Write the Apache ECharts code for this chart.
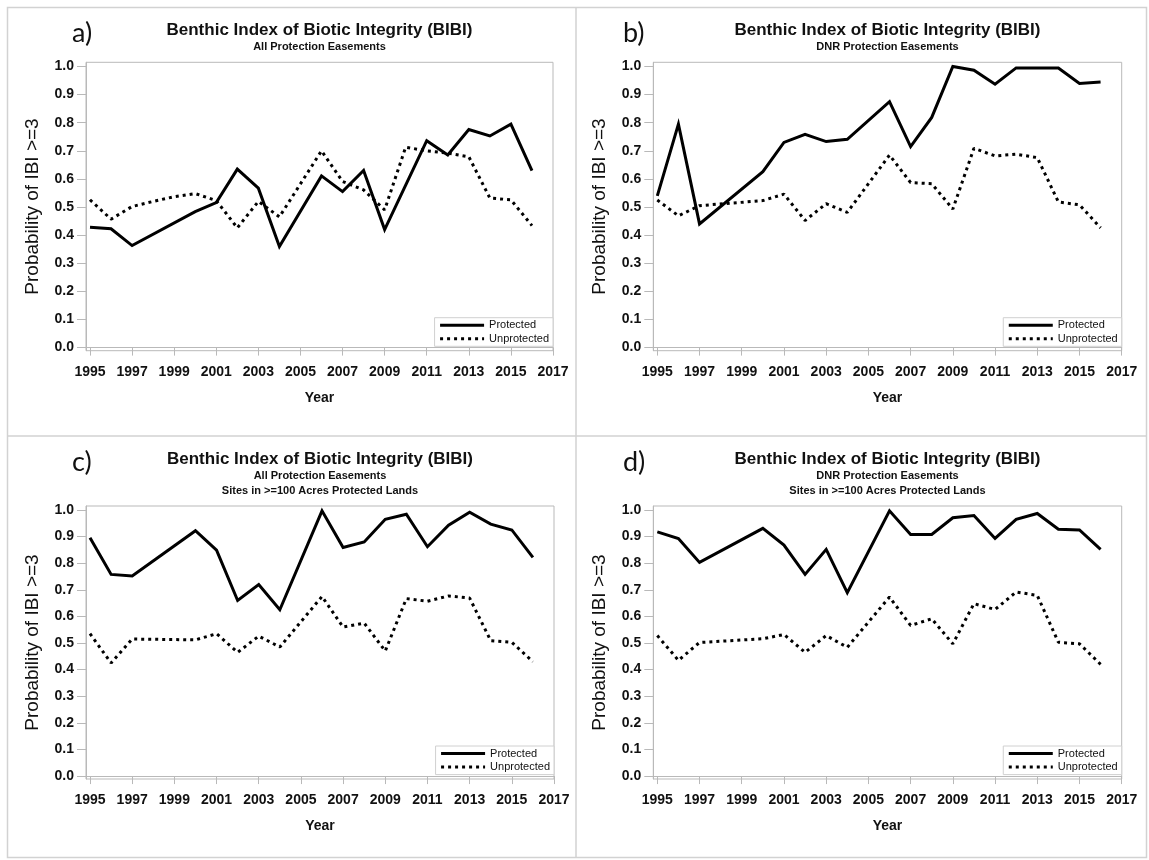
<!DOCTYPE html>
<html>
<head>
<meta charset="utf-8">
<title>Benthic Index of Biotic Integrity (BIBI)</title>
<script src="https://cdn.jsdelivr.net/npm/echarts@6/dist/echarts.min.js"></script>
<style>
  html, body { margin: 0; padding: 0; background: #fff; }
  #chart { width: 1149px; height: 860px; }
</style>
</head>
<body>
<div id="chart"></div>
<script>
// Sampling years; null = no estimate for that year
const YEARS = [1995, 1996, 1997, 1998, 1999, 2000, 2001, 2002, 2003, 2004, 2005,
               2006, 2007, 2008, 2009, 2010, 2011, 2012, 2013, 2014, 2015, 2016];

// a) All protection easements
const A_PROTECTED   = [0.428, 0.423, 0.363, null, null, 0.484, 0.516, 0.635, 0.567, 0.360, null,
                       0.611, 0.555, 0.630, 0.420, 0.578, 0.736, 0.685, 0.776, 0.753, 0.795, 0.630];
const A_UNPROTECTED = [0.526, 0.457, 0.502, 0.520, 0.537, 0.548, 0.523, 0.426, 0.520, 0.465, null,
                       0.700, 0.591, 0.561, 0.490, 0.713, 0.700, 0.692, 0.679, 0.532, 0.526, 0.434];

// b) DNR protection easements
const B_PROTECTED   = [0.540, 0.795, 0.440, null, null, 0.626, 0.730, 0.759, 0.733, 0.741, null,
                       0.875, 0.715, 0.819, 1.000, 0.987, 0.937, 0.995, 0.995, 0.995, 0.940, 0.945];
const B_UNPROTECTED = [0.525, 0.469, 0.505, null, null, 0.523, 0.546, 0.452, 0.512, 0.481, null,
                       0.685, 0.587, 0.583, 0.493, 0.709, 0.682, 0.688, 0.676, 0.518, 0.508, 0.426];

// c) All protection easements, sites in >=100 acres protected lands
const C_PROTECTED   = [0.896, 0.758, 0.752, null, null, 0.922, 0.849, 0.660, 0.720, 0.625, null,
                       0.997, 0.859, 0.880, 0.965, 0.984, 0.862, 0.943, 0.992, 0.947, 0.925, 0.822];
const C_UNPROTECTED = [0.535, 0.425, 0.515, null, null, 0.512, 0.535, 0.465, 0.526, 0.485, null,
                       0.675, 0.560, 0.575, 0.470, 0.667, 0.657, 0.677, 0.669, 0.509, 0.503, 0.430];

// d) DNR protection easements, sites in >=100 acres protected lands
const D_PROTECTED   = [0.918, 0.893, 0.803, null, null, 0.931, 0.868, 0.758, 0.852, 0.689, null,
                       0.997, 0.908, 0.908, 0.971, 0.979, 0.893, 0.965, 0.987, 0.928, 0.925, 0.852];
const D_UNPROTECTED = [0.528, 0.435, 0.502, null, null, 0.516, 0.532, 0.465, 0.528, 0.484, null,
                       0.673, 0.566, 0.591, 0.497, 0.648, 0.626, 0.692, 0.679, 0.503, 0.497, 0.420];

// Axis tick labels
const X_TICKS = [1995, 1997, 1999, 2001, 2003, 2005, 2007, 2009, 2011, 2013, 2015, 2017];
const Y_TICKS = [0, 0.1, 0.2, 0.3, 0.4, 0.5, 0.6, 0.7, 0.8, 0.9, 1.0];

// Text
const TITLE = 'Benthic Index of Biotic Integrity (BIBI)';
const SUBTITLES = [
  ['All Protection Easements'],
  ['DNR Protection Easements'],
  ['All Protection Easements', 'Sites in >=100 Acres Protected Lands'],
  ['DNR Protection Easements', 'Sites in >=100 Acres Protected Lands']
];
const PANEL_TAGS = ['a)', 'b)', 'c)', 'd)'];
const SERIES_NAMES = ['Protected', 'Unprotected'];
const X_NAME = 'Year';
const Y_NAME = 'Probability of IBI >=3';

const PANEL_DATA = [
  [A_PROTECTED, A_UNPROTECTED],
  [B_PROTECTED, B_UNPROTECTED],
  [C_PROTECTED, C_UNPROTECTED],
  [D_PROTECTED, D_UNPROTECTED]
];

// Layout of the four plot frames (pixels)
const W = 1149, H = 860;
const FRAMES = [
  { left: 86,    right: 553,    top: 62.3, bottom: 350.7 },
  { left: 653.3, right: 1121.7, top: 62.3, bottom: 350.7 },
  { left: 86,    right: 554,    top: 506,  bottom: 779 },
  { left: 653.3, right: 1121.7, top: 506,  bottom: 779 }
];
const TITLE_Y = [
  [30.7, 46.5],
  [30.7, 46.5],
  [459, 476, 490.5],
  [459, 476, 490.5]
];
const TAG_POS = [[72, 33], [623, 33], [72, 462], [623, 462]];

const FONT = '"Liberation Sans", Arial, Helvetica, sans-serif';
const FRAME_GRAY = '#b9b9b9';
const INK = '#111111';

function pairs(values) {
  return YEARS.map((y, i) => [y, values[i]]).filter(p => p[1] !== null);
}

const grids = [], xAxes = [], yAxes = [], series = [], legends = [], graphics = [];

FRAMES.forEach((f, i) => {
  grids.push({
    left: f.left, top: f.top,
    width: f.right - f.left, height: f.bottom - f.top,
    show: true, borderColor: FRAME_GRAY, borderWidth: 1,
    containLabel: false
  });

  xAxes.push({
    type: 'value', gridIndex: i,
    min: 1994.81, max: 2017,
    axisLine: { show: true, lineStyle: { color: FRAME_GRAY, width: 1 } },
    axisTick: { show: true, customValues: X_TICKS, length: 8, lineStyle: { color: FRAME_GRAY } },
    axisLabel: {
      customValues: X_TICKS, margin: 14, color: INK,
      fontFamily: FONT, fontSize: 14, fontWeight: 'bold',
      formatter: v => String(v)
    },
    splitLine: { show: false },
    name: X_NAME, nameLocation: 'middle', nameGap: 40,
    nameTextStyle: { fontFamily: FONT, fontSize: 14, fontWeight: 'bold', color: INK }
  });

  yAxes.push({
    type: 'value', gridIndex: i,
    min: -0.011, max: 1.015,
    axisLine: { show: true, lineStyle: { color: FRAME_GRAY, width: 1 } },
    axisTick: { show: true, customValues: Y_TICKS, length: 9, lineStyle: { color: FRAME_GRAY } },
    axisLabel: {
      customValues: Y_TICKS, margin: 12, color: INK,
      fontFamily: FONT, fontSize: 14, fontWeight: 'bold',
      formatter: v => Number(v).toFixed(1)
    },
    splitLine: { show: false },
    name: Y_NAME, nameLocation: 'middle', nameGap: 44,
    nameTextStyle: { fontFamily: FONT, fontSize: 19, fontWeight: 'normal', color: INK }
  });

  const [prot, unprot] = PANEL_DATA[i];
  series.push({
    name: SERIES_NAMES[0], type: 'line', xAxisIndex: i, yAxisIndex: i,
    data: pairs(prot), symbol: 'none', silent: true,
    lineStyle: { color: '#000', width: 3, type: 'solid', join: 'miter' },
    itemStyle: { color: '#000' }
  });
  series.push({
    name: SERIES_NAMES[1], type: 'line', xAxisIndex: i, yAxisIndex: i,
    data: pairs(unprot), symbol: 'none', silent: true,
    lineStyle: { color: '#000', width: 3, type: [3, 4], cap: 'butt' },
    itemStyle: { color: '#000' }
  });

  legends.push({
    data: SERIES_NAMES,
    orient: 'vertical',
    right: W - f.right, top: f.bottom - 33,
    itemWidth: 44, itemHeight: 12, itemGap: 2.6,
    padding: [2, 4, 2, 4],
    borderColor: '#d0d0d0', borderWidth: 1, backgroundColor: '#fff',
    selectedMode: false,
    itemStyle: { opacity: 0 },
    lineStyle: { width: 3 },
    textStyle: { fontFamily: FONT, fontSize: 11, color: INK }
  });

  // Titles above each frame
  const cx = (f.left + f.right) / 2;
  graphics.push({
    type: 'text', silent: true,
    style: { x: cx, y: TITLE_Y[i][0], text: TITLE, textAlign: 'center', textVerticalAlign: 'middle',
             font: 'bold 17px ' + FONT, fill: INK }
  });
  SUBTITLES[i].forEach((s, k) => {
    graphics.push({
      type: 'text', silent: true,
      style: { x: cx, y: TITLE_Y[i][k + 1], text: s, textAlign: 'center', textVerticalAlign: 'middle',
               font: 'bold 11px ' + FONT, fill: INK }
    });
  });

  // Panel letter
  graphics.push({
    type: 'text', silent: true,
    style: { x: TAG_POS[i][0], y: TAG_POS[i][1], text: PANEL_TAGS[i], textAlign: 'left',
             textVerticalAlign: 'middle', font: '27px Lato, "Open Sans", sans-serif', fill: '#111' }
  });
});

// Outer border and panel dividers
const DIV = '#d2d2d2';
graphics.push(
  { type: 'rect', silent: true, z: -1,
    shape: { x: 7.5, y: 7.5, width: 1139, height: 850 },
    style: { fill: 'none', stroke: DIV, lineWidth: 1.5 } },
  { type: 'line', silent: true, z: -1,
    shape: { x1: 7.5, y1: 436, x2: 1146.5, y2: 436 },
    style: { stroke: DIV, lineWidth: 1.5 } },
  { type: 'line', silent: true, z: -1,
    shape: { x1: 576, y1: 7.5, x2: 576, y2: 857.5 },
    style: { stroke: DIV, lineWidth: 1.5 } }
);

const chart = echarts.init(document.getElementById('chart'), null, { renderer: 'canvas', width: W, height: H });
chart.setOption({
  backgroundColor: '#ffffff',
  animation: false,
  grid: grids,
  xAxis: xAxes,
  yAxis: yAxes,
  legend: legends,
  series: series,
  graphic: graphics
});
</script>
</body>
</html>
